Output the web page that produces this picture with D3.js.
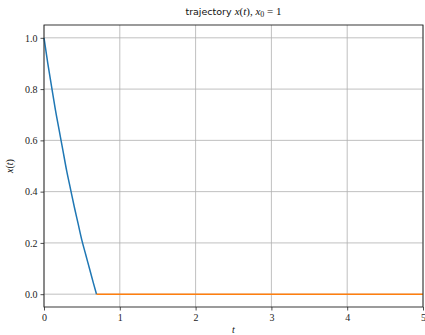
<!DOCTYPE html>
<html><head><meta charset="utf-8">
<script src="https://cdn.jsdelivr.net/npm/d3@7"></script>
<style>body{margin:0;background:#fff}svg{display:block}</style>
</head><body>
<script>
const descentT = [0, 0.05, 0.1, 0.15, 0.2, 0.25, 0.3, 0.35, 0.4, 0.45, 0.5, 0.55, 0.6, 0.65, 0.693];
const descentX = [1.0, 0.90, 0.81, 0.72, 0.64, 0.56, 0.48, 0.41, 0.34, 0.275, 0.21, 0.155, 0.10, 0.045, 0.0];
const restT = [0.693, 5];
const restX = [0, 0];
const xTicks = [0, 1, 2, 3, 4, 5];
const yTicks = [0.0, 0.2, 0.4, 0.6, 0.8, 1.0];

const W = 425, H = 335;
const m = {l: 44, r: 2, t: 25, b: 28};
const svg = d3.select("body").append("svg").attr("width", W).attr("height", H);
const x = d3.scaleLinear().domain([0, 5]).range([m.l, W - m.r]);
const y = d3.scaleLinear().domain([-0.05, 1.05]).range([H - m.b, m.t]);
const serif = "'Liberation Serif', 'DejaVu Serif', serif";

// grid
svg.append("g").selectAll("line").data(xTicks).join("line")
  .attr("x1", d => x(d)).attr("x2", d => x(d)).attr("y1", m.t).attr("y2", H - m.b)
  .attr("stroke", "#b0b0b0").attr("stroke-width", 0.8);
svg.append("g").selectAll("line").data(yTicks).join("line")
  .attr("x1", m.l).attr("x2", W - m.r).attr("y1", d => y(d)).attr("y2", d => y(d))
  .attr("stroke", "#b0b0b0").attr("stroke-width", 0.8);

svg.append("path").datum(descentT.map((t, i) => [t, descentX[i]]))
  .attr("d", d3.line().x(d => x(d[0])).y(d => y(d[1])).curve(d3.curveMonotoneX))
  .attr("fill", "none").attr("stroke", "#1f77b4").attr("stroke-width", 1.5);
svg.append("path").datum(restT.map((t, i) => [t, restX[i]]))
  .attr("d", d3.line().x(d => x(d[0])).y(d => y(d[1])))
  .attr("fill", "none").attr("stroke", "#ff7f0e").attr("stroke-width", 1.5);

// axes
const xa = svg.append("g").attr("transform", `translate(0,${H - m.b})`)
  .call(d3.axisBottom(x).tickValues(xTicks).tickFormat(d3.format("d")).tickSize(3.5).tickPadding(3));
const ya = svg.append("g").attr("transform", `translate(${m.l},0)`)
  .call(d3.axisLeft(y).tickValues(yTicks).tickFormat(d3.format(".1f")).tickSize(3.5).tickPadding(3));
[xa, ya].forEach(g => {
  g.attr("font-family", null).attr("font-size", null);
  g.select(".domain").remove();
  g.selectAll("line").attr("stroke", "#222").attr("stroke-width", 0.8);
  g.selectAll("text").style("font-family", serif).style("font-size", "10px").attr("fill", "#222");
});
svg.append("rect").attr("x", m.l).attr("y", m.t).attr("width", W - m.r - m.l).attr("height", H - m.t - m.b)
  .attr("fill", "none").attr("stroke", "#222").attr("stroke-width", 0.9);

// labels
const title = svg.append("text").attr("x", (m.l + W - m.r) / 2).attr("y", 15).attr("text-anchor", "middle")
  .style("font-size", "11px").attr("fill", "#111");
title.append("tspan").style("font-family", "'DejaVu Sans', sans-serif").style("font-size", "9.5px").text("trajectory ");
title.append("tspan").style("font-family", serif).style("font-style", "italic").text("x");
title.append("tspan").style("font-family", serif).text("(");
title.append("tspan").style("font-family", serif).style("font-style", "italic").text("t");
title.append("tspan").style("font-family", serif).text("), ");
title.append("tspan").style("font-family", serif).style("font-style", "italic").text("x");
title.append("tspan").style("font-family", serif).style("font-size", "8px").attr("dy", 2).text("0");
title.append("tspan").style("font-family", serif).attr("dy", -2).text(" = 1");

svg.append("text").attr("x", (m.l + W - m.r) / 2).attr("y", 333).attr("text-anchor", "middle")
  .style("font-family", serif).style("font-style", "italic").style("font-size", "10px").attr("fill", "#111").text("t");
const yl = svg.append("text").attr("transform", `translate(13,${(m.t + H - m.b) / 2}) rotate(-90)`)
  .attr("text-anchor", "middle").style("font-family", serif).style("font-size", "10px").attr("fill", "#111");
yl.append("tspan").style("font-style", "italic").text("x");
yl.append("tspan").text("(");
yl.append("tspan").style("font-style", "italic").text("t");
yl.append("tspan").text(")");
</script>
</body></html>
